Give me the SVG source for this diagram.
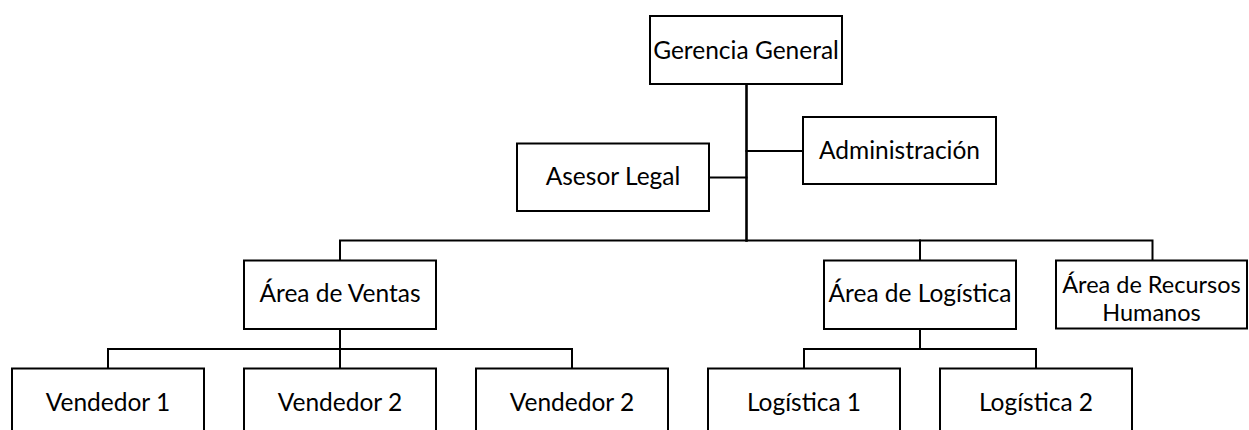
<svg xmlns="http://www.w3.org/2000/svg" width="1249" height="430" viewBox="0 0 1249 430">
<style>
.box{fill:#fff;stroke:#000;stroke-width:2}
.lbl{font-family:Lato,"Open Sans",sans-serif;font-size:24.5px;fill:#000;text-anchor:middle}
.two{font-size:23.5px}
.con{fill:none;stroke:#000;stroke-width:2;stroke-linecap:square}
</style>
<rect x="0" y="0" width="1249" height="430" fill="#fff"/>
<g id="connectors">
<line class="con" x1="746.5" y1="85" x2="746.5" y2="240.5" style="stroke-width:2.6"/>
<line class="con" x1="746.5" y1="151" x2="803" y2="151"/>
<line class="con" x1="709" y1="177.5" x2="746.5" y2="177.5"/>
<polyline class="con" points="340,260 340,240.5 1152.5,240.5 1152.5,260"/>
<line class="con" x1="920" y1="240.5" x2="920" y2="260"/>
<line class="con" x1="340" y1="329" x2="340" y2="368"/>
<polyline class="con" points="108,368 108,349 572,349 572,368"/>
<line class="con" x1="920" y1="329" x2="920" y2="349"/>
<polyline class="con" points="804,368 804,349 1036,349 1036,368"/>
</g>
<g id="gerencia"><rect class="box" x="650" y="16" width="192" height="68"/><text class="lbl" x="746" y="58.5">Gerencia General</text></g>
<g id="administracion"><rect class="box" x="803" y="117" width="193" height="67"/><text class="lbl" x="899.5" y="159">Administración</text></g>
<g id="asesor"><rect class="box" x="517" y="143.5" width="192" height="67.5"/><text class="lbl" x="613" y="184.5">Asesor Legal</text></g>
<g id="ventas"><rect class="box" x="244" y="260.5" width="192" height="68.5"/><text class="lbl" x="340" y="302">Área de Ventas</text></g>
<g id="logistica"><rect class="box" x="824" y="260.5" width="192" height="68.5"/><text class="lbl" x="920" y="302">Área de Logística</text></g>
<g id="rrhh"><rect class="box" x="1056" y="260.5" width="191" height="68"/><text class="lbl two" x="1151.5" y="293">Área de Recursos</text><text class="lbl two" x="1151.5" y="321.3">Humanos</text></g>
<g id="vendedor1"><rect class="box" x="12" y="368.5" width="192" height="80"/><text class="lbl" x="108" y="410.5">Vendedor 1</text></g>
<g id="vendedor2"><rect class="box" x="244" y="368.5" width="192" height="80"/><text class="lbl" x="340" y="410.5">Vendedor 2</text></g>
<g id="vendedor3"><rect class="box" x="476" y="368.5" width="192" height="80"/><text class="lbl" x="572" y="410.5">Vendedor 2</text></g>
<g id="logistica1"><rect class="box" x="708" y="368.5" width="192" height="80"/><text class="lbl" x="804" y="410.5">Logística 1</text></g>
<g id="logistica2"><rect class="box" x="940" y="368.5" width="192" height="80"/><text class="lbl" x="1036" y="410.5">Logística 2</text></g>
</svg>
